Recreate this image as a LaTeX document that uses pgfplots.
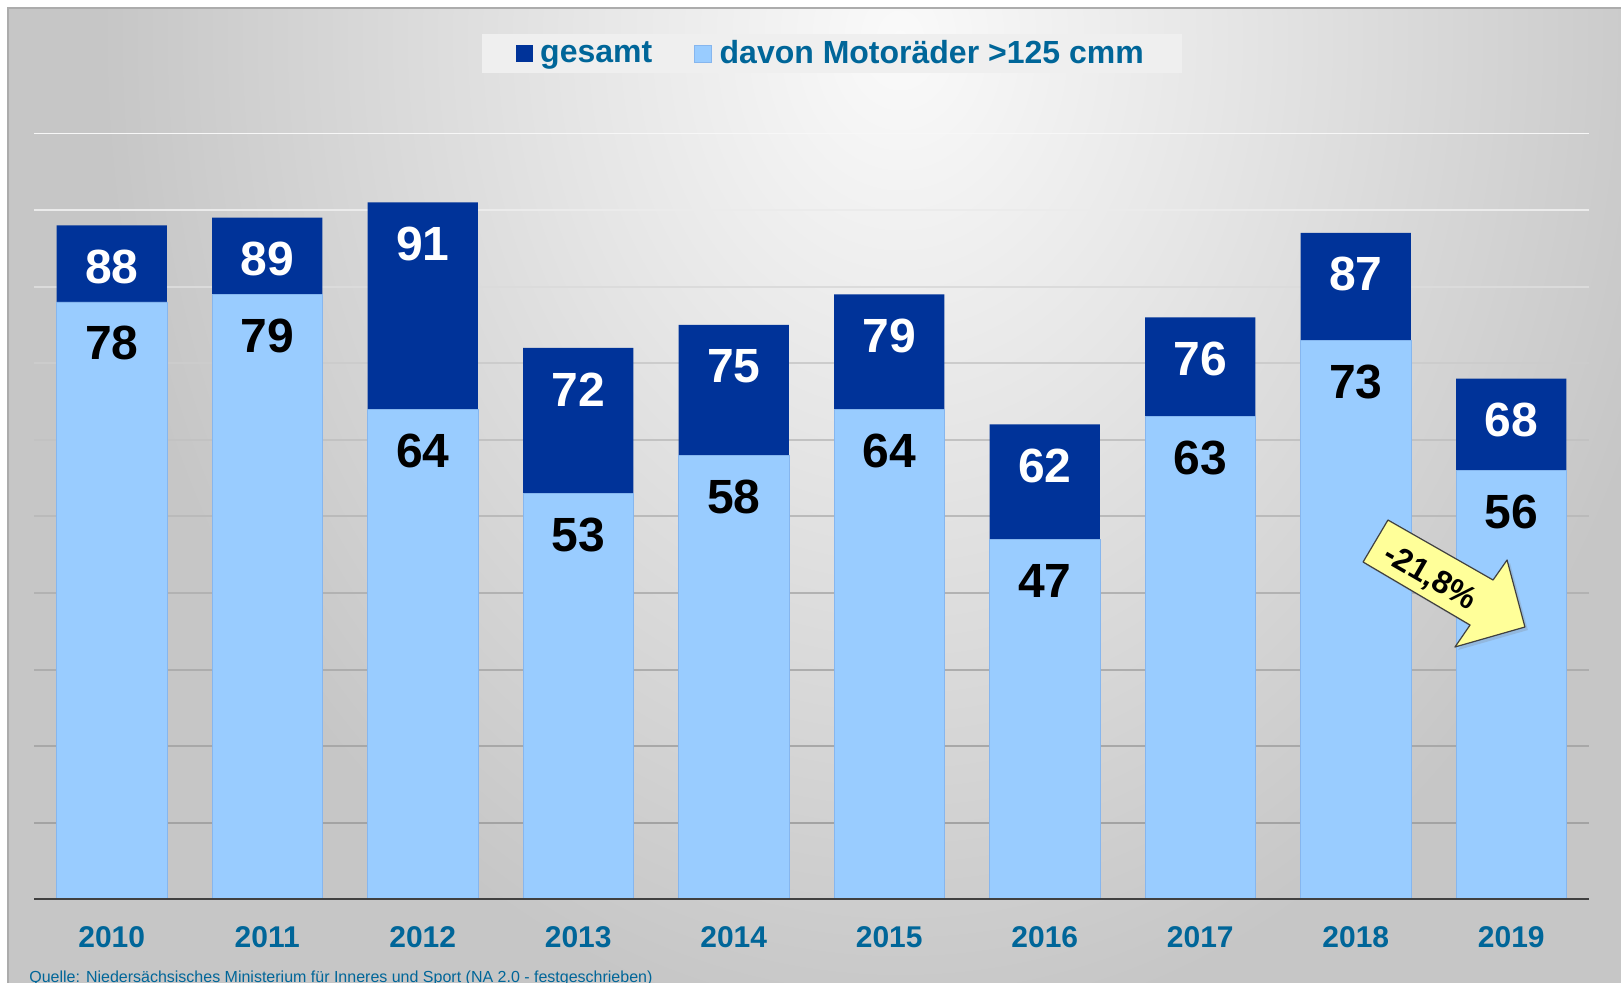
\documentclass[border=0pt]{standalone}
\usepackage{fontspec}
\setmainfont{Liberation Sans}
\usepackage{pgfplots}
\pgfplotsset{compat=1.18}
\usetikzlibrary{shadows}

\definecolor{darkbar}{HTML}{003399}
\definecolor{lightbar}{HTML}{99CCFF}
\definecolor{lightedge}{HTML}{86B6EE}
\definecolor{labelblue}{HTML}{006699}
\definecolor{axisgray}{HTML}{404040}
\definecolor{panelgray}{HTML}{C6C6C6}
\definecolor{panelmid}{HTML}{E6E6E6}
\definecolor{panellight}{HTML}{FAFAFA}
\definecolor{legendfill}{HTML}{EFEFEF}
\definecolor{arrowyellow}{HTML}{FFFF99}

\pgfdeclareradialshading{panel}{\pgfpoint{0bp}{0bp}}{%
  color(0bp)=(panellight); color(10bp)=(panelmid); color(25bp)=(panelgray); color(50bp)=(panelgray)}

\begin{document}
\begin{tikzpicture}
\useasboundingbox (0,0) rectangle (810.5pt,-491pt);
% background panel (1 px = 0.5pt, y downwards)
\begin{scope}[x=0.5pt,y=-0.5pt]
  \clip (0,0) rectangle (1621,982);
  \fill[white] (0,0) rectangle (1621,982);
  \begin{scope}
    \clip (8,8) rectangle (1625,990);
    \fill[panelgray] (8,8) rectangle (1625,990);
    \shade[shading=panel] (900,40) ellipse [x radius=400pt, y radius=500pt];
  \end{scope}
  \draw[gray!65, line width=0.8pt] (8,990) -- (8,8) -- (1625,8);
  \node[anchor=base west, inner sep=0pt, text=labelblue,
        font=\fontsize{8}{9}\selectfont] at (29,982)
    {Quelle: Niedersächsisches Ministerium für Inneres und Sport (NA 2.0 - festgeschrieben)};
\end{scope}

\begin{axis}[
  at={(17pt,-449.7pt)}, anchor=south west,
  scale only axis, width=777.5pt, height=383pt,
  xmin=-0.5, xmax=9.5, ymin=0, ymax=100, enlargelimits=false,
  ybar=0pt, bar width=0.71, bar shift=0pt,
  axis x line*=bottom, axis y line*=left,
  y axis line style={draw=none},
  x axis line style={draw=none},
  xtick={0,1,2,3,4,5,6,7,8,9},
  xticklabels={2010,2011,2012,2013,2014,2015,2016,2017,2018,2019},
  ytick=\empty,
  major tick length=0pt,
  xticklabel style={anchor=base, yshift=-24pt,
    font=\fontsize{15}{15}\selectfont\bfseries, text=labelblue},
  /pgf/number format/assume math mode=true,
  nodes near coords,
  every node near coord/.append style={anchor=center, yshift=-20.7pt,
    font=\fontsize{24}{24}\selectfont\bfseries},
  legend style={at={(0.513,1.1043)}, anchor=center, legend columns=2,
    fill=legendfill, draw=none, text=labelblue,
    font=\fontsize{16}{16}\selectfont\bfseries,
    inner xsep=17pt, inner ysep=1pt,
    /tikz/every even column/.append style={column sep=19pt}},
  legend image code/.code={\fill[#1] (0pt,-4.25pt) rectangle (8.5pt,4.25pt);
    \path (10.3pt,0pt);},
]
% grid lines, lighter towards the top as in the original
\foreach \v/\d in {100/3,90/8,80/14,70/20,60/24,50/27,40/30,30/32,20/34,10/36} {
  \edef\gridline{\noexpand\draw[black!\d, line width=1pt]
    (axis cs:-0.5,\v) -- (axis cs:9.5,\v);}
  \gridline
}
\addplot[fill=darkbar, draw=none,
  every node near coord/.append style={text=white}]
  coordinates {(0,88) (1,89) (2,91) (3,72) (4,75) (5,79) (6,62) (7,76) (8,87) (9,68)};
\addplot[fill=lightbar, draw=lightedge, line width=0.4pt,
  every node near coord/.append style={text=black}]
  coordinates {(0,78) (1,79) (2,64) (3,53) (4,58) (5,64) (6,47) (7,63) (8,73) (9,56)};
\legend{gesamt,davon Motoräder >125 cmm}

\draw[axisgray, line width=1.75pt] (axis cs:-0.5,0) -- (axis cs:9.5,0);

% annotation arrow
\draw[draw=black!75, fill=arrowyellow, line width=0.6pt, line join=round,
  drop shadow={opacity=0.25, shadow xshift=1.5pt, shadow yshift=-1.5pt}]
  (axis cs:8.207,49.53) -- (axis cs:8.883,41.70) -- (axis cs:8.973,44.31)
  -- (axis cs:9.088,35.56) -- (axis cs:8.638,32.95) -- (axis cs:8.735,35.82)
  -- (axis cs:8.047,44.05) -- cycle;
\node[rotate=-30, font=\fontsize{16}{16}\selectfont\bfseries]
  at (axis cs:8.477,41.96) {-21,8\%};
\end{axis}
\end{tikzpicture}
\end{document}
